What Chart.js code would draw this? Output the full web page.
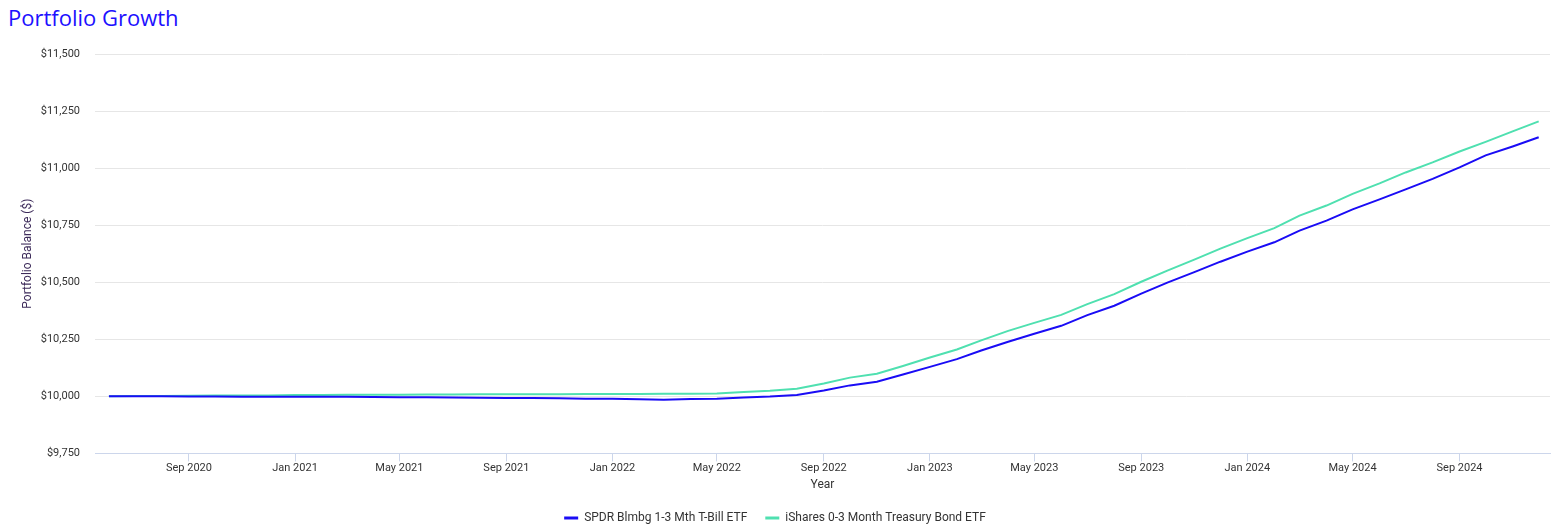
<!DOCTYPE html>
<html>
<head>
<meta charset="utf-8">
<script src="https://cdn.jsdelivr.net/npm/chart.js@4.4.1/dist/chart.umd.min.js"></script>
<style>
  html, body { margin: 0; padding: 0; background: #fff; }
  #wrap { position: relative; width: 1554px; height: 526px; }
  #title { position: absolute; left: 8px; top: 2px; font-family: 'Open Sans', sans-serif; font-size: 22px; font-weight: 500; color: #2010ff; white-space: nowrap; }
  canvas { position: absolute; left: 0; top: 0; }
</style>
</head>
<body>
<div id="wrap">
  <div id="title">Portfolio Growth</div>
  <canvas id="chart" width="1554" height="526"></canvas>
</div>
<script>
// monthly balances, $10,000 start
const months = [
  '2020-06', '2020-07', '2020-08', '2020-09', '2020-10', '2020-11', '2020-12',
  '2021-01', '2021-02', '2021-03', '2021-04', '2021-05', '2021-06', '2021-07', '2021-08', '2021-09', '2021-10', '2021-11', '2021-12',
  '2022-01', '2022-02', '2022-03', '2022-04', '2022-05', '2022-06', '2022-07', '2022-08', '2022-09', '2022-10', '2022-11', '2022-12',
  '2023-01', '2023-02', '2023-03', '2023-04', '2023-05', '2023-06', '2023-07', '2023-08', '2023-09', '2023-10', '2023-11', '2023-12',
  '2024-01', '2024-02', '2024-03', '2024-04', '2024-05', '2024-06', '2024-07', '2024-08', '2024-09', '2024-10', '2024-11', '2024-12'
];

const spdr = [
  10000, 10000, 10000, 9999, 9999, 9998, 9998,
  9998, 9998, 9998, 9997, 9996, 9996, 9995, 9994, 9993, 9993, 9992, 9990,
  9989, 9987, 9985, 9988, 9989, 9995, 9999, 10006, 10026, 10048, 10064, 10096,
  10129, 10163, 10201, 10239, 10274, 10309, 10356, 10397, 10450, 10498, 10544, 10590,
  10634, 10675, 10726, 10770, 10819, 10863, 10907, 10953, 11003, 11056, 11095, 11135
];

const ishares = [
  10000, 10001, 10002, 10003, 10004, 10004, 10004,
  10006, 10006, 10007, 10007, 10007, 10008, 10008, 10009, 10009, 10009, 10009, 10010,
  10010, 10010, 10011, 10011, 10012, 10019, 10024, 10033, 10056, 10082, 10099, 10133,
  10170, 10205, 10245, 10287, 10322, 10357, 10404, 10448, 10502, 10551, 10599, 10647,
  10693, 10737, 10792, 10836, 10887, 10933, 10981, 11025, 11073, 11115, 11161, 11205
];

const seriesNames = ['SPDR Blmbg 1-3 Mth T-Bill ETF', 'iShares 0-3 Month Treasury Bond ETF'];

const tickMonths = ['2020-09', '2021-01', '2021-05', '2021-09', '2022-01', '2022-05', '2022-09',
  '2023-01', '2023-05', '2023-09', '2024-01', '2024-05', '2024-09'];
const tickLabels = ['Sep 2020', 'Jan 2021', 'May 2021', 'Sep 2021', 'Jan 2022', 'May 2022', 'Sep 2022',
  'Jan 2023', 'May 2023', 'Sep 2023', 'Jan 2024', 'May 2024', 'Sep 2024'];

// month string -> day number so the x axis spaces points by real time
const dayOf = (ym) => {
  const [y, m] = ym.split('-').map(Number);
  return Date.UTC(y, m - 1, 1) / 86400000;
};

const textColor = '#333333';
Chart.defaults.font.family = "Roboto, 'Noto Sans', sans-serif";

const ctx = document.getElementById('chart').getContext('2d');
new Chart(ctx, {
  type: 'line',
  data: {
    datasets: [
      {
        label: seriesNames[0],
        data: months.map((m, i) => ({ x: dayOf(m), y: spdr[i] })),
        borderColor: '#1a0cf5',
        backgroundColor: '#1a0cf5',
        borderWidth: 2,
        pointRadius: 0,
        tension: 0
      },
      {
        label: seriesNames[1],
        data: months.map((m, i) => ({ x: dayOf(m), y: ishares[i] })),
        borderColor: '#4fe0b0',
        backgroundColor: '#4fe0b0',
        borderWidth: 2,
        pointRadius: 0,
        tension: 0
      }
    ]
  },
  options: {
    responsive: false,
    animation: false,
    layout: { padding: { top: 54, right: 4, left: 0, bottom: -8 } },
    plugins: {
      legend: {
        position: 'bottom',
        labels: {
          usePointStyle: true,
          pointStyle: 'line',
          pointStyleWidth: 14,
          color: textColor,
          padding: 18,
          font: { size: 12 },
          // slightly thicker swatches than the plotted lines
          generateLabels: (chart) => Chart.defaults.plugins.legend.labels.generateLabels(chart)
            .map(item => ({ ...item, lineWidth: 3 }))
        }
      },
      tooltip: { enabled: false }
    },
    scales: {
      x: {
        type: 'linear',
        min: dayOf(months[0]) - 16,
        max: dayOf(months[months.length - 1]) + 13,
        afterBuildTicks: (scale) => {
          scale.ticks = tickMonths.map(m => ({ value: dayOf(m) }));
        },
        grid: { drawOnChartArea: false, drawTicks: true, tickLength: 8, color: '#ccd6eb' },
        border: { display: true, color: '#ccd6eb' },
        ticks: {
          color: textColor,
          font: { size: 11 },
          padding: 0,
          autoSkip: false,
          maxRotation: 0,
          callback: (v, i) => tickLabels[i]
        },
        title: { display: true, text: 'Year', color: textColor, font: { size: 12 }, padding: { top: 3, bottom: 2 } }
      },
      y: {
        min: 9750,
        max: 11500,
        afterFit: (scale) => { scale.width = 95; },
        grid: { color: '#e6e6e6', drawTicks: false },
        border: { display: false },
        ticks: {
          stepSize: 250,
          color: textColor,
          font: { size: 11 },
          padding: 15,
          callback: (v) => '$' + v.toLocaleString('en-US')
        },
        title: { display: true, text: 'Portfolio Balance ($)', color: '#3d2b5a', font: { size: 12 }, padding: { top: 21, bottom: 0 } }
      }
    }
  }
});
</script>
</body>
</html>
